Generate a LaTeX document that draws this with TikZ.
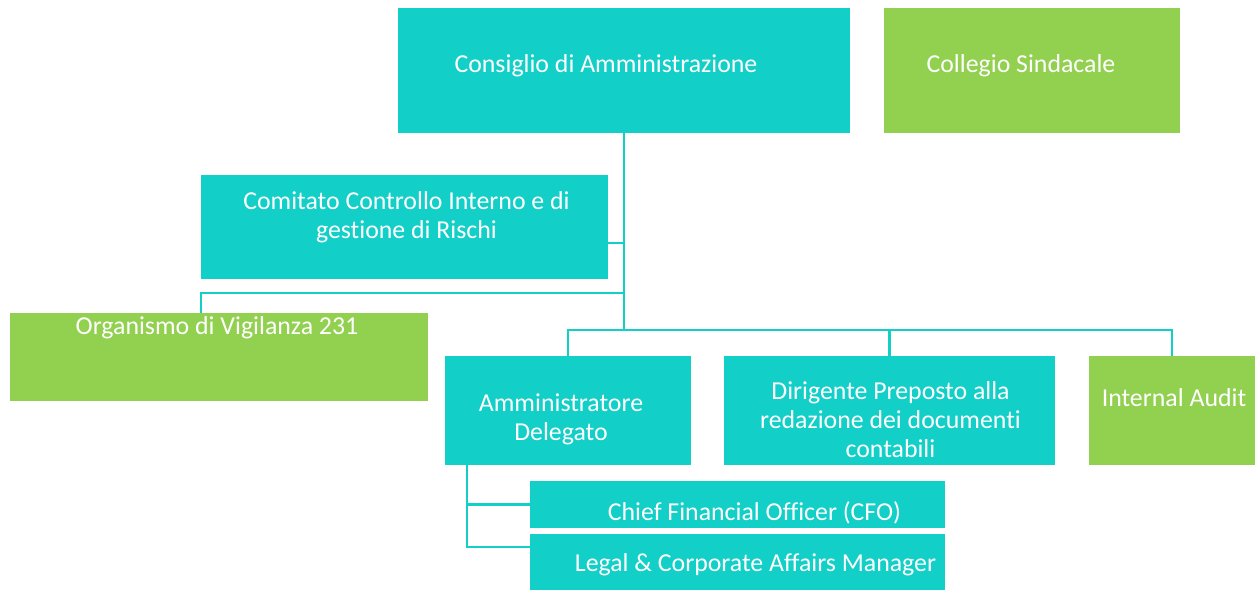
\documentclass[tikz,border=0pt]{standalone}
\usepackage{fontspec}
\setmainfont{Carlito}[Ligatures=NoCommon]
\usetikzlibrary{positioning}
\definecolor{boxteal}{RGB}{18,207,200}
\definecolor{boxgreen}{RGB}{146,208,80}
\newcommand{\pxu}{0.02cm}

\begin{document}
\begin{tikzpicture}[x=0.02cm,y=-0.02cm,
    box/.style n args={2}{fill=boxteal,inner sep=0pt,minimum width=#1*\pxu,minimum height=#2*\pxu},
    gbox/.style n args={2}{box={#1}{#2},fill=boxgreen},
    txt/.style={text=white,font=\fontsize{14.7}{16.5}\selectfont,align=center,inner sep=0pt},
    txtat/.style n args={3}{label={[txt,xshift=#1*\pxu,yshift=#2*\pxu]center:{#3}}},
    link/.style={draw=boxteal,line width=1.2pt}]
   \useasboundingbox (0,0) rectangle (1255,590);
   % top level
   \node[box={452}{125},txtat={-18}{5}{Consiglio di Amministrazione}] (cda) at (624,70.5) {};
   \node[gbox={296}{125},txtat={-11}{5}{Collegio Sindacale}] (cs) at (1032,70.5) {};
   % staff
   \node[box={407}{104},txtat={2}{10}{Comitato Controllo Interno e di\\gestione di Rischi}] (ccir) at (404.5,227) {};
   \node[gbox={418}{88},txtat={-2}{29}{Organismo di Vigilanza 231}] (odv) at (219,357) {};
   % line
   \node[box={246}{109},txtat={-7}{-9}{Amministratore\\Delegato}] (ad) at (568,410.5) {};
   \node[box={331}{109},txtat={1}{-9}{Dirigente Preposto alla\\redazione dei documenti\\contabili}] (dp) at (889.5,410.5) {};
   \node[gbox={166}{109},txtat={2}{13}{Internal Audit}] (ia) at (1172,410.5) {};
   \node[box={415}{47},txtat={17}{-8}{Chief Financial Officer (CFO)}] (cfo) at (737.5,504.5) {};
   \node[box={415}{56},txtat={18}{-3}{Legal \& Corporate Affairs Manager}] (lcam) at (737.5,562) {};
   % connectors
   \coordinate (bus) at (624,330);
   \coordinate (odvj) at (624,293);
   \coordinate (adj) at (467,465);
   \draw[link] (cda.south) -- (bus);
   \draw[link] ([yshift=-16*\pxu]ccir.east) -- ([yshift=-16*\pxu]ccir.east -| bus);
   \draw[link] (odvj) -| (odv.north -| ccir.west);
   \draw[link] (ad.north) |- (bus) -| (ia.north);
   \draw[link] (dp.north) -- (dp.north |- bus);
   \draw[link] (adj) |- (cfo.west);
   \draw[link] (adj) |- ([yshift=15*\pxu]lcam.west);
\end{tikzpicture}
\end{document}
